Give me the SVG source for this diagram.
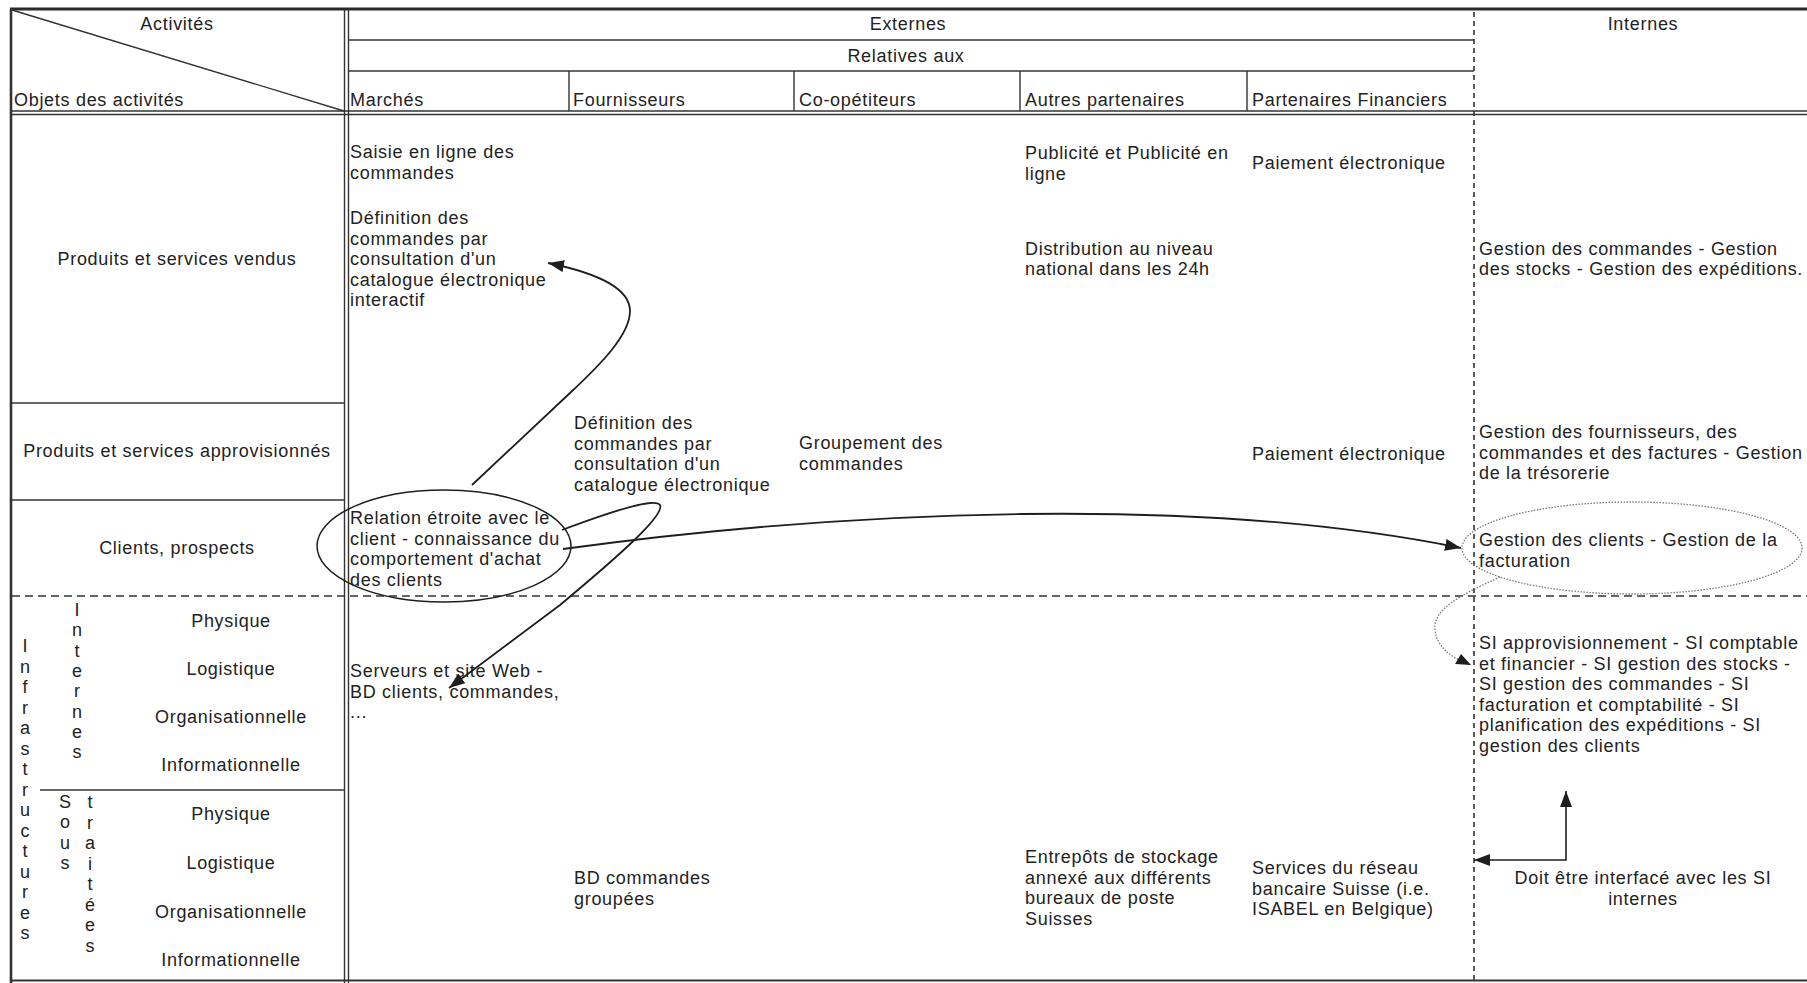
<svg xmlns="http://www.w3.org/2000/svg" width="1807" height="983" viewBox="0 0 1807 983">
  <style>
    text { font-family: "Liberation Sans", Arial, sans-serif; font-size: 18px; letter-spacing: 0.7px; fill: #222; }
    .mid { text-anchor: middle; }
    .vert { text-anchor: middle; letter-spacing: 0; }
    .rule { stroke: #333; stroke-width: 1.4; fill: none; }
    .heavy { stroke: #2a2a2a; stroke-width: 3; fill: none; }
    .dashh { stroke: #333; stroke-width: 1.6; stroke-dasharray: 8 5; fill: none; }
    .dashv { stroke: #333; stroke-width: 1.6; stroke-dasharray: 5 4; fill: none; }
    .link { stroke: #1e1e1e; stroke-width: 1.8; fill: none; }
    .dotted { stroke: #777; stroke-width: 1.3; stroke-dasharray: 1.5 1.5; fill: none; }
  </style>
  <defs>
    <marker id="head" markerUnits="userSpaceOnUse" markerWidth="17" markerHeight="12" refX="16" refY="6" orient="auto-start-reverse">
      <path d="M0,0 L16,6 L0,12 z" fill="#1e1e1e"/>
    </marker>
  </defs>

  <rect width="1807" height="983" fill="#fff"/>

  <!-- table grid -->
  <g id="grid">
    <line class="heavy" x1="10" y1="9" x2="1807" y2="9"/>
    <line class="rule" x1="11" y1="9" x2="11" y2="983" style="stroke-width:2.6"/>
    <line class="rule" x1="344.5" y1="9" x2="344.5" y2="983"/>
    <line class="rule" x1="348.5" y1="9" x2="348.5" y2="983"/>
    <line class="rule" x1="12" y1="10" x2="344" y2="111"/>
    <line class="rule" x1="348" y1="40" x2="1474" y2="40"/>
    <line class="rule" x1="348" y1="71" x2="1474" y2="71"/>
    <line class="rule" x1="569" y1="71" x2="569" y2="111"/>
    <line class="rule" x1="794" y1="71" x2="794" y2="111"/>
    <line class="rule" x1="1020" y1="71" x2="1020" y2="111"/>
    <line class="rule" x1="1247" y1="71" x2="1247" y2="111"/>
    <line class="rule" x1="11" y1="111" x2="1807" y2="111"/>
    <line class="rule" x1="11" y1="114.5" x2="1807" y2="114.5"/>
    <line class="rule" x1="11" y1="403" x2="344" y2="403"/>
    <line class="rule" x1="11" y1="500" x2="344" y2="500"/>
    <line class="rule" x1="40" y1="790" x2="344" y2="790"/>
    <line class="dashh" x1="12" y1="596" x2="1807" y2="596"/>
    <line class="dashv" x1="1474" y1="12" x2="1474" y2="983"/>
    <line class="rule" x1="11" y1="980.5" x2="1807" y2="980.5" style="stroke-width:2"/>
  </g>

  <!-- header -->
  <g id="header">
    <text class="mid" x="177" y="30">Activités</text>
    <text x="14" y="106">Objets des activités</text>
    <text class="mid" x="908" y="30">Externes</text>
    <text class="mid" x="906" y="62">Relatives aux</text>
    <text class="mid" x="1643" y="30">Internes</text>
    <text x="350" y="106">Marchés</text>
    <text x="573" y="106">Fournisseurs</text>
    <text x="799" y="106">Co-opétiteurs</text>
    <text x="1025" y="106">Autres partenaires</text>
    <text x="1252" y="106">Partenaires Financiers</text>
  </g>

  <!-- row labels -->
  <g id="rows">
    <text class="mid" x="177" y="265">Produits et services vendus</text>
    <text class="mid" x="177" y="457">Produits et services approvisionnés</text>
    <text class="mid" x="177" y="554">Clients, prospects</text>
    <text class="mid" x="231" y="627">Physique</text>
    <text class="mid" x="231" y="675">Logistique</text>
    <text class="mid" x="231" y="723">Organisationnelle</text>
    <text class="mid" x="231" y="771">Informationnelle</text>
    <text class="mid" x="231" y="820">Physique</text>
    <text class="mid" x="231" y="869">Logistique</text>
    <text class="mid" x="231" y="918">Organisationnelle</text>
    <text class="mid" x="231" y="966">Informationnelle</text>
  </g>

  <!-- vertical group labels -->
  <g id="infrastructures">
    <text class="vert"><tspan x="25" y="652">I</tspan><tspan x="25" dy="20.5">n</tspan><tspan x="25" dy="20.5">f</tspan><tspan x="25" dy="20.5">r</tspan><tspan x="25" dy="20.5">a</tspan><tspan x="25" dy="20.5">s</tspan><tspan x="25" dy="20.5">t</tspan><tspan x="25" dy="20.5">r</tspan><tspan x="25" dy="20.5">u</tspan><tspan x="25" dy="20.5">c</tspan><tspan x="25" dy="20.5">t</tspan><tspan x="25" dy="20.5">u</tspan><tspan x="25" dy="20.5">r</tspan><tspan x="25" dy="20.5">e</tspan><tspan x="25" dy="20.5">s</tspan></text>
  </g>
  <g id="internes-infra">
    <text class="vert"><tspan x="77" y="616">I</tspan><tspan x="77" dy="20.3">n</tspan><tspan x="77" dy="20.3">t</tspan><tspan x="77" dy="20.3">e</tspan><tspan x="77" dy="20.3">r</tspan><tspan x="77" dy="20.3">n</tspan><tspan x="77" dy="20.3">e</tspan><tspan x="77" dy="20.3">s</tspan></text>
  </g>
  <g id="sous-traitees">
    <text class="vert"><tspan x="65" y="808">S</tspan><tspan x="65" dy="20.3">o</tspan><tspan x="65" dy="20.3">u</tspan><tspan x="65" dy="20.3">s</tspan></text>
    <text class="vert"><tspan x="90" y="808">t</tspan><tspan x="90" dy="20.5">r</tspan><tspan x="90" dy="20.5">a</tspan><tspan x="90" dy="20.5">i</tspan><tspan x="90" dy="20.5">t</tspan><tspan x="90" dy="20.5">é</tspan><tspan x="90" dy="20.5">e</tspan><tspan x="90" dy="20.5">s</tspan></text>
  </g>

  <!-- Marchés column -->
  <g id="saisie">
    <text><tspan x="350" y="158">Saisie en ligne des</tspan><tspan x="350" dy="20.6">commandes</tspan></text>
  </g>
  <g id="definition-vendus">
    <text><tspan x="350" y="224">Définition des</tspan><tspan x="350" dy="20.6">commandes par</tspan><tspan x="350" dy="20.6">consultation d'un</tspan><tspan x="350" dy="20.6">catalogue électronique</tspan><tspan x="350" dy="20.6">interactif</tspan></text>
  </g>
  <g id="relation-client">
    <ellipse cx="444" cy="546" rx="127" ry="56" class="link" style="stroke-width:1.5"/>
    <text><tspan x="350" y="524">Relation étroite avec le</tspan><tspan x="350" dy="20.6">client - connaissance du</tspan><tspan x="350" dy="20.6">comportement d'achat</tspan><tspan x="350" dy="20.6">des clients</tspan></text>
  </g>
  <g id="serveurs">
    <text><tspan x="350" y="677">Serveurs et site Web -</tspan><tspan x="350" dy="20.6">BD clients, commandes,</tspan><tspan x="350" dy="20.6">...</tspan></text>
  </g>

  <!-- Fournisseurs column -->
  <g id="definition-appro">
    <text><tspan x="574" y="429">Définition des</tspan><tspan x="574" dy="20.6">commandes par</tspan><tspan x="574" dy="20.6">consultation d'un</tspan><tspan x="574" dy="20.6">catalogue électronique</tspan></text>
  </g>
  <g id="bd-groupees">
    <text><tspan x="574" y="884">BD commandes</tspan><tspan x="574" dy="20.6">groupées</tspan></text>
  </g>

  <!-- Co-opétiteurs column -->
  <g id="groupement">
    <text><tspan x="799" y="449">Groupement des</tspan><tspan x="799" dy="20.6">commandes</tspan></text>
  </g>

  <!-- Autres partenaires column -->
  <g id="publicite">
    <text><tspan x="1025" y="159">Publicité et Publicité en</tspan><tspan x="1025" dy="20.6">ligne</tspan></text>
  </g>
  <g id="distribution">
    <text><tspan x="1025" y="254.5">Distribution au niveau</tspan><tspan x="1025" dy="20.6">national dans les 24h</tspan></text>
  </g>
  <g id="entrepots">
    <text><tspan x="1025" y="863">Entrepôts de stockage</tspan><tspan x="1025" dy="20.6">annexé aux différents</tspan><tspan x="1025" dy="20.6">bureaux de poste</tspan><tspan x="1025" dy="20.6">Suisses</tspan></text>
  </g>

  <!-- Partenaires financiers column -->
  <g id="paiement-vendus">
    <text x="1252" y="169">Paiement électronique</text>
  </g>
  <g id="paiement-appro">
    <text x="1252" y="460">Paiement électronique</text>
  </g>
  <g id="reseau-bancaire">
    <text><tspan x="1252" y="874">Services du réseau</tspan><tspan x="1252" dy="20.6">bancaire Suisse (i.e.</tspan><tspan x="1252" dy="20.6">ISABEL en Belgique)</tspan></text>
  </g>

  <!-- Internes column -->
  <g id="gestion-commandes">
    <text><tspan x="1479" y="254.5">Gestion des commandes - Gestion</tspan><tspan x="1479" dy="20.6">des stocks - Gestion des expéditions.</tspan></text>
  </g>
  <g id="gestion-fournisseurs">
    <text><tspan x="1479" y="438">Gestion des fournisseurs, des</tspan><tspan x="1479" dy="20.6">commandes et des factures - Gestion</tspan><tspan x="1479" dy="20.6">de la trésorerie</tspan></text>
  </g>
  <g id="gestion-clients">
    <ellipse cx="1632" cy="548" rx="170" ry="46" class="dotted"/>
    <text><tspan x="1479" y="546">Gestion des clients - Gestion de la</tspan><tspan x="1479" dy="20.6">facturation</tspan></text>
  </g>
  <g id="si-internes">
    <text><tspan x="1479" y="649">SI approvisionnement - SI comptable</tspan><tspan x="1479" dy="20.6">et financier - SI gestion des stocks -</tspan><tspan x="1479" dy="20.6">SI gestion des commandes - SI</tspan><tspan x="1479" dy="20.6">facturation et comptabilité - SI</tspan><tspan x="1479" dy="20.6">planification des expéditions - SI</tspan><tspan x="1479" dy="20.6">gestion des clients</tspan></text>
  </g>
  <g id="interface-note">
    <text class="mid"><tspan x="1643" y="884">Doit être interfacé avec les SI</tspan><tspan x="1643" dy="20.6">internes</tspan></text>
  </g>

  <!-- connectors -->
  <g id="connectors">
    <path class="link" d="M472,485 L570,393 C600,365 630,335 630,311 C630,287 592,272 548,263" marker-end="url(#head)"/>
    <path class="link" d="M562,530 C610,512 655,497 660,505 C665,515 620,555 560,605 L449,688" marker-end="url(#head)"/>
    <path class="link" d="M563,549 C850,510 1200,495 1461,548" marker-end="url(#head)"/>
    <path class="dotted" d="M1500,577 C1460,595 1432,610 1435,630 C1437,648 1452,658 1471,665"/>
    <path d="M1471,665 L1455,664 L1461,654 z" fill="#1e1e1e"/>
    <path class="link" style="stroke-width:1.6" d="M1566,791 L1566,860 L1474,860" marker-start="url(#head)" marker-end="url(#head)"/>
  </g>
</svg>
